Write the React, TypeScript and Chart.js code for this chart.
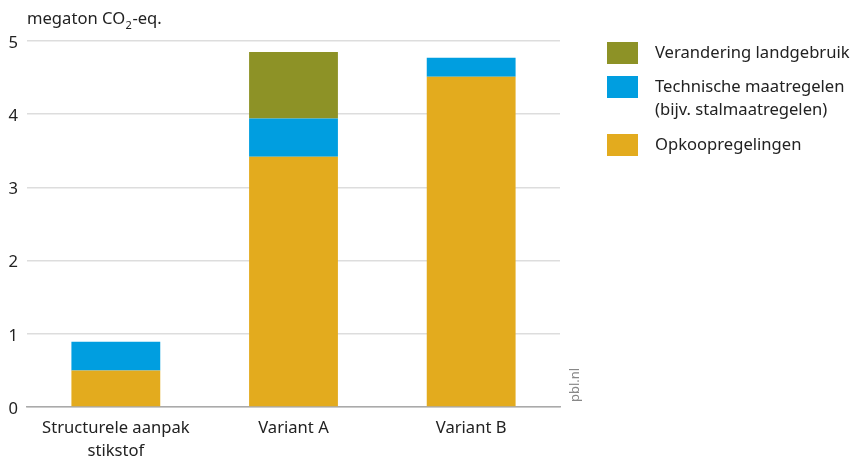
import React, { useEffect, useRef } from "react";
import { Chart, registerables } from "chart.js";

Chart.register(...registerables);

const categories: (string | string[])[] = [["Structurele aanpak", "stikstof"], "Variant A", "Variant B"];
const opkoop = [0.5, 3.42, 4.51];
const technisch = [0.39, 0.52, 0.26];
const landgebruik = [0, 0.91, 0];
const yTicks = [0, 1, 2, 3, 4, 5];
const legendLabels = [["Verandering landgebruik"], ["Technische maatregelen", "(bijv. stalmaatregelen)"], ["Opkoopregelingen"]];

const COLORS = { opkoop: "#e3ab1e", tech: "#009ee0", land: "#8d9226" };
const FONT = "'Noto Sans', sans-serif";
const FS = 16.6;

export default function App() {
  const ref = useRef<HTMLCanvasElement | null>(null);
  useEffect(() => {
    document.body.style.margin = "0";
    const ctx = ref.current!.getContext("2d")!;
    const overlay = {
      id: "overlay",
      afterDraw(chart: any) {
        const c = chart.ctx;
        const area = chart.chartArea;
        c.save();
        c.fillStyle = "#222";
        c.textBaseline = "alphabetic";
        c.textAlign = "left";
        c.font = `${FS}px ${FONT}`;
        let x = 27;
        const y = 24;
        c.fillText("megaton CO", x, y);
        x += c.measureText("megaton CO").width;
        c.font = `11px ${FONT}`;
        c.fillText("2", x + 0.5, y + 5);
        x += c.measureText("2").width + 1;
        c.font = `${FS}px ${FONT}`;
        c.fillText("-eq.", x, y);
        // pbl.nl
        c.save();
        c.translate(area.right + 15, 385);
        c.rotate(-Math.PI / 2);
        c.font = `13px ${FONT}`;
        c.fillStyle = "#888";
        c.textAlign = "center";
        c.textBaseline = "middle";
        c.fillText("pbl.nl", 0, 0);
        c.restore();
        // legend
        const ds = [chart.data.datasets[2], chart.data.datasets[1], chart.data.datasets[0]];
        const sw = [42, 76, 134];
        c.font = `${FS}px ${FONT}`;
        c.textBaseline = "middle";
        ds.forEach((d: any, i: number) => {
          c.fillStyle = d.backgroundColor;
          c.fillRect(607, sw[i], 31, 22);
          c.fillStyle = "#222";
          legendLabels[i].forEach((t, j) => c.fillText(t, 655, sw[i] + 11 + j * 23));
        });
        c.restore();
      },
    };
    const chart = new Chart(ctx, {
      type: "bar",
      data: {
        labels: categories,
        datasets: [
          { label: "Opkoopregelingen", data: opkoop, backgroundColor: COLORS.opkoop },
          { label: "Technische maatregelen (bijv. stalmaatregelen)", data: technisch, backgroundColor: COLORS.tech },
          { label: "Verandering landgebruik", data: landgebruik, backgroundColor: COLORS.land },
        ],
      },
      options: {
        animation: false,
        responsive: false,
        layout: { padding: { top: 41, right: 291, left: 0, bottom: 0 } },
        plugins: { legend: { display: false }, tooltip: { enabled: false } },
        datasets: { bar: { categoryPercentage: 1, barPercentage: 0.5 } },
        scales: {
          x: {
            stacked: true,
            grid: { display: false },
            border: { display: true, color: "#aaa", width: 1.5 },
            ticks: { color: "#222", font: { family: FONT, size: FS, lineHeight: 1.38 }, padding: 2, maxRotation: 0 },
            afterFit(s: any) { s.height = 51; },
          },
          y: {
            stacked: true,
            min: 0,
            max: 5,
            afterBuildTicks(s: any) { s.ticks = yTicks.map((v) => ({ value: v })); },
            grid: { color: "#ddd", lineWidth: 1.5, drawTicks: false },
            border: { display: false },
            ticks: { color: "#222", font: { family: FONT, size: FS }, padding: 9, labelOffset: 2 },
            afterFit(s: any) { s.width = 27; },
          },
        },
      },
      plugins: [overlay],
    });
    return () => chart.destroy();
  }, []);
  return (
    <div style={{ position: "fixed", left: 0, top: 0, width: 851, height: 458 }}>
      <canvas ref={ref} width={851} height={458} style={{ display: "block" }} />
    </div>
  );
}
